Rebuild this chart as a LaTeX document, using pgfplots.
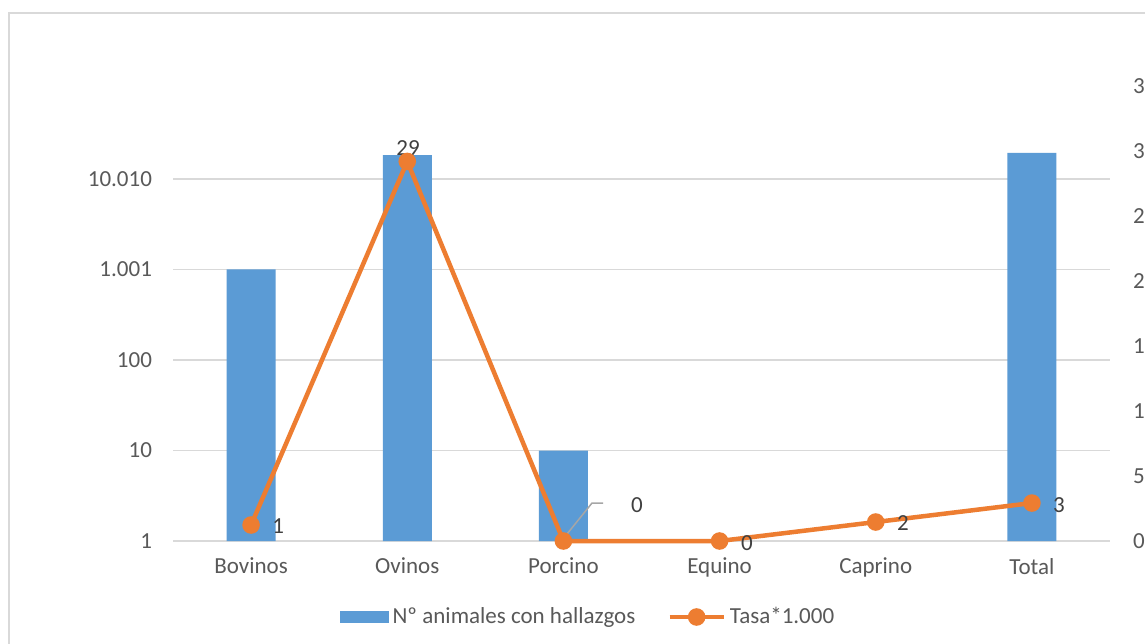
\documentclass[border=0pt]{standalone}
\usepackage{pgfplots}
\pgfplotsset{compat=1.18}
\usepackage{fontspec}
\setmainfont{Carlito}
\definecolor{barblue}{HTML}{5B9BD5}
\definecolor{lineorange}{HTML}{ED7D31}
\definecolor{gridgray}{HTML}{D9D9D9}
\definecolor{ticktext}{HTML}{595959}
\definecolor{labeltext}{HTML}{404040}
\definecolor{leadergray}{HTML}{A6A6A6}
\begin{document}
\begin{tikzpicture}
\useasboundingbox (0pt,0pt) rectangle (572.5pt,-321.5pt);
\clip (0pt,0pt) rectangle (572.5pt,-321.5pt);
\fill[white] (0pt,0pt) rectangle (572.5pt,-321.5pt);
\draw[gridgray,line width=0.75pt] (4.5pt,-6.5pt) rectangle (650pt,-400pt);
\pgfplotsset{
  base/.style={
    at={(86.5pt,-270.5pt)}, anchor=south west,
    scale only axis, width=468.5pt, height=227.5pt,
    xmin=-0.5, xmax=5.5,
    major tick length=0pt,
    tick label style={font=\fontsize{11.5}{13}\selectfont, text=ticktext},
  }
}
\begin{axis}[base,
  ymode=log, ymin=1, ymax=106560,
  ybar, bar width=24.5pt,
  ytick={1,10,100,1001,10010},
  yticklabels={1,10,100,{1.001},{10.010}},
  ymajorgrids, grid style={gridgray,line width=0.75pt},
  axis x line*=bottom, axis y line*=left,
  x axis line style={gridgray,line width=0.75pt},
  y axis line style={draw=none},
  xtick={0,1,2,3,4,5},
  xticklabels={Bovinos,Ovinos,Porcino,Equino,Caprino,Total},
  xticklabel style={yshift=-5pt},
  yticklabel style={xshift=-7pt},
]
\addplot[fill=barblue, draw=none] coordinates {(0,1001) (1,18400) (2,10) (5,19400)};
\end{axis}
\begin{axis}[base,
  ymin=0, ymax=35, clip=false,
  axis y line*=right, axis x line=none,
  y axis line style={draw=none},
  ytick={0,5,10,15,20,25,30,35},
  yticklabels={0,5,10,15,20,25,30,35},
  yticklabel style={xshift=8pt},
  legend style={at={(0.444,-0.167)}, anchor=center, draw=none, fill=none,
    legend columns=2, font=\fontsize{11.5}{13}\selectfont, text=ticktext,
    /tikz/every even column/.append style={column sep=14pt}},
]
\addlegendimage{legend image code/.code={\fill[barblue] (0pt,-2.6pt) rectangle (24pt,2.6pt);}}
\addlegendentry{Nº animales con hallazgos}
\addplot[lineorange, line width=2.25pt, mark=*, mark size=3.25pt,
  legend image code/.code={\draw[lineorange,line width=2.25pt] (0pt,0pt) -- (27pt,0pt); \fill[lineorange] (13.5pt,0pt) circle (3.25pt);}]
  coordinates {(0,1.23) (1,29.2) (2,0) (3,0) (4,1.46) (5,2.92)};
\addlegendentry{Tasa*1.000}
\draw[leadergray, line width=0.75pt] (axis cs:1.997,0.15) -- (axis cs:2.183,2.92) -- (axis cs:2.254,2.92);
\begin{scope}[every node/.style={text=labeltext, font=\fontsize{11.5}{13}\selectfont, inner sep=0pt}]
\node at (axis cs:0.173,1.15) {1};
\node at (axis cs:1.005,30.2) {29};
\node at (axis cs:2.471,2.77) {0};
\node at (axis cs:3.175,-0.15) {0};
\node at (axis cs:4.174,1.38) {2};
\node at (axis cs:5.173,2.77) {3};
\end{scope}
\end{axis}
\end{tikzpicture}
\end{document}
